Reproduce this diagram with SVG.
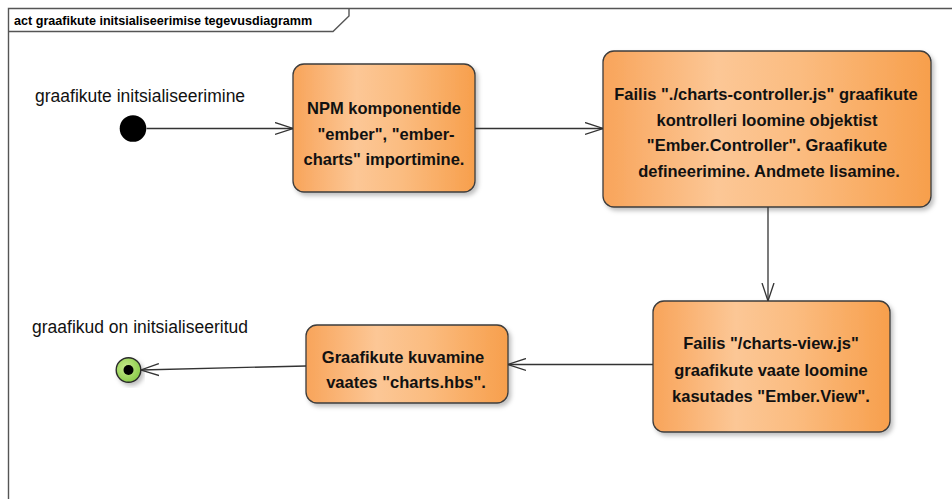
<svg xmlns="http://www.w3.org/2000/svg" width="952" height="499" viewBox="0 0 952 499">
  <style>
    .frame { fill: none; stroke: #555; stroke-width: 1.4; }
    .title { font-family: "Liberation Sans", Arial, sans-serif; font-size: 12.6px; font-weight: bold; fill: #000; }
    .action { fill: url(#actFill); stroke: #3c3c3c; stroke-width: 1.3; filter: url(#shadow); }
    .atext { font-family: "Liberation Sans", Arial, sans-serif; font-size: 16.5px; font-weight: bold; fill: #111; text-anchor: middle; }
    .label { font-family: "Liberation Sans", Arial, sans-serif; font-size: 17.5px; fill: #111; }
    .flow { fill: none; stroke: #333; stroke-width: 1.3; marker-end: url(#open); }
  </style>
  <defs>
    <linearGradient id="actFill" x1="0" y1="0" x2="1" y2="0">
      <stop offset="0" stop-color="#f8a45a"/>
      <stop offset="0.35" stop-color="#fcc796"/>
      <stop offset="0.6" stop-color="#fbbc80"/>
      <stop offset="1" stop-color="#f79f4c"/>
    </linearGradient>
    <radialGradient id="finalFill" cx="0.4" cy="0.4" r="0.6">
      <stop offset="0" stop-color="#c8ec8c"/>
      <stop offset="1" stop-color="#8ccc4c"/>
    </radialGradient>
    <filter id="shadow" x="-10%" y="-10%" width="125%" height="130%">
      <feDropShadow dx="2.5" dy="3" stdDeviation="2" flood-color="#000" flood-opacity="0.25"/>
    </filter>
    <marker id="open" viewBox="0 0 18 14" refX="18" refY="7" markerWidth="18" markerHeight="14" markerUnits="userSpaceOnUse" orient="auto">
      <path d="M0,1 L18,7 L0,13" fill="none" stroke="#333" stroke-width="1.3"/>
    </marker>
  </defs>

  <!-- activity frame with name tab -->
  <g id="frame">
    <path class="frame" d="M8.5,499 L8.5,8.5 L952,8.5"/>
    <path class="frame" d="M8.5,31.5 L333,31.5 L349,16 L349,8.5"/>
    <text class="title" x="14" y="24.5">act graafikute initsialiseerimise tegevusdiagramm</text>
  </g>

  <!-- initial node -->
  <g id="start">
    <circle cx="133" cy="128.5" r="13.3" fill="#000"/>
    <text class="label" x="35" y="102">graafikute initsialiseerimine</text>
  </g>

  <!-- actions -->
  <g id="import">
    <rect class="action" x="293" y="64" width="182" height="128" rx="11"/>
    <text class="atext" x="384" y="114">NPM komponentide</text>
    <text class="atext" x="386" y="139.5">"ember", "ember-</text>
    <text class="atext" x="384" y="165">charts" importimine.</text>
  </g>

  <g id="controller">
    <rect class="action" x="603" y="51" width="328" height="156" rx="11"/>
    <text class="atext" x="766" y="100">Failis "./charts-controller.js" graafikute</text>
    <text class="atext" x="767" y="125.5">kontrolleri loomine objektist</text>
    <text class="atext" x="767" y="151">"Ember.Controller". Graafikute</text>
    <text class="atext" x="769" y="176.5">defineerimine. Andmete lisamine.</text>
  </g>

  <g id="view">
    <rect class="action" x="653" y="301" width="237" height="131" rx="11"/>
    <text class="atext" x="771" y="349">Failis "/charts-view.js"</text>
    <text class="atext" x="771" y="375.5">graafikute vaate loomine</text>
    <text class="atext" x="771" y="402">kasutades "Ember.View".</text>
  </g>

  <g id="render">
    <rect class="action" x="306" y="325" width="202" height="78" rx="11"/>
    <text class="atext" x="403" y="362.5">Graafikute kuvamine</text>
    <text class="atext" x="406" y="387.5">vaates "charts.hbs".</text>
  </g>

  <!-- final node -->
  <g id="end">
    <circle cx="128.5" cy="370" r="12.3" fill="url(#finalFill)" stroke="#2a2a2a" stroke-width="1.4" filter="url(#shadow)"/>
    <circle cx="128.5" cy="370" r="5" fill="#000"/>
    <text class="label" x="32" y="333">graafikud on initsialiseeritud</text>
  </g>

  <!-- control flows -->
  <g id="flows">
    <path class="flow" d="M146.5,128.5 L293,128.5"/>
    <path class="flow" d="M475,128.5 L603,128.5"/>
    <path class="flow" d="M768,207 L768,301"/>
    <path class="flow" d="M653,364.5 L508,364.5"/>
    <path class="flow" d="M306,366 L141,370"/>
  </g>
</svg>
